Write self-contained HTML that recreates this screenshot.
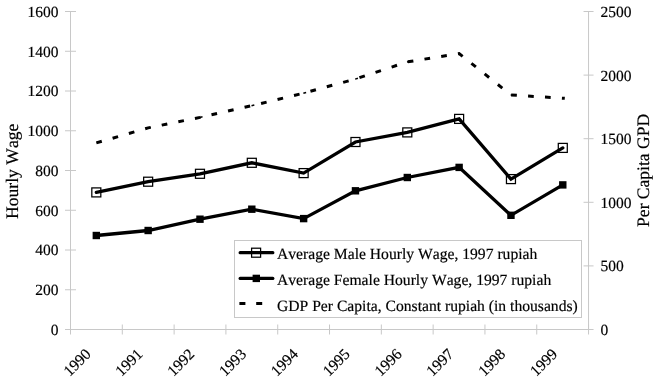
<!DOCTYPE html>
<html><head><meta charset="utf-8"><title>Hourly Wage and GDP Per Capita</title>
<style>
html,body{margin:0;padding:0;background:#fff;}
text{stroke:#000;stroke-width:0.18px;}
svg{display:block;text-rendering:geometricPrecision;font-kerning:none;font-family:"Liberation Serif","Times New Roman",serif;fill:#000;}
</style></head><body>
<svg width="660" height="382" viewBox="0 0 660 382">
<rect width="660" height="382" fill="#fff"/>

<g stroke="#c8c8c8" stroke-width="1" fill="none">
<line x1="70.5" y1="11.5" x2="70.5" y2="329.5"/>
<line x1="588.55" y1="11.5" x2="588.55" y2="329.5"/>
<line x1="70.5" y1="329.5" x2="588.55" y2="329.5"/>
<line x1="65.0" y1="329.50" x2="76.0" y2="329.50"/>
<line x1="65.0" y1="289.75" x2="76.0" y2="289.75"/>
<line x1="65.0" y1="250.00" x2="76.0" y2="250.00"/>
<line x1="65.0" y1="210.25" x2="76.0" y2="210.25"/>
<line x1="65.0" y1="170.50" x2="76.0" y2="170.50"/>
<line x1="65.0" y1="130.75" x2="76.0" y2="130.75"/>
<line x1="65.0" y1="91.00" x2="76.0" y2="91.00"/>
<line x1="65.0" y1="51.25" x2="76.0" y2="51.25"/>
<line x1="65.0" y1="11.50" x2="76.0" y2="11.50"/>
<line x1="583.55" y1="329.50" x2="593.55" y2="329.50"/>
<line x1="583.55" y1="265.90" x2="593.55" y2="265.90"/>
<line x1="583.55" y1="202.30" x2="593.55" y2="202.30"/>
<line x1="583.55" y1="138.70" x2="593.55" y2="138.70"/>
<line x1="583.55" y1="75.10" x2="593.55" y2="75.10"/>
<line x1="583.55" y1="11.50" x2="593.55" y2="11.50"/>
<line x1="70.50" y1="324.5" x2="70.50" y2="334.5"/>
<line x1="122.30" y1="324.5" x2="122.30" y2="334.5"/>
<line x1="174.11" y1="324.5" x2="174.11" y2="334.5"/>
<line x1="225.91" y1="324.5" x2="225.91" y2="334.5"/>
<line x1="277.72" y1="324.5" x2="277.72" y2="334.5"/>
<line x1="329.52" y1="324.5" x2="329.52" y2="334.5"/>
<line x1="381.33" y1="324.5" x2="381.33" y2="334.5"/>
<line x1="433.13" y1="324.5" x2="433.13" y2="334.5"/>
<line x1="484.94" y1="324.5" x2="484.94" y2="334.5"/>
<line x1="536.74" y1="324.5" x2="536.74" y2="334.5"/>
<line x1="588.55" y1="324.5" x2="588.55" y2="334.5"/>
</g>
<g font-size="15.5px">
<text x="58.6" y="334.90" text-anchor="end">0</text>
<text x="58.6" y="295.15" text-anchor="end">200</text>
<text x="58.6" y="255.40" text-anchor="end">400</text>
<text x="58.6" y="215.65" text-anchor="end">600</text>
<text x="58.6" y="175.90" text-anchor="end">800</text>
<text x="58.6" y="136.15" text-anchor="end">1000</text>
<text x="58.6" y="96.40" text-anchor="end">1200</text>
<text x="58.6" y="56.65" text-anchor="end">1400</text>
<text x="58.6" y="16.90" text-anchor="end">1600</text>
<text x="600.6" y="334.90">0</text>
<text x="600.6" y="271.30">500</text>
<text x="600.6" y="207.70">1000</text>
<text x="600.6" y="144.10">1500</text>
<text x="600.6" y="80.50">2000</text>
<text x="600.6" y="16.90">2500</text>
<text transform="translate(85.32,348.7) rotate(-45)" text-anchor="end" x="0" y="9" font-size="15.5px">1990</text>
<text transform="translate(137.15,348.7) rotate(-45)" text-anchor="end" x="0" y="9" font-size="15.5px">1991</text>
<text transform="translate(188.98,348.7) rotate(-45)" text-anchor="end" x="0" y="9" font-size="15.5px">1992</text>
<text transform="translate(240.81,348.7) rotate(-45)" text-anchor="end" x="0" y="9" font-size="15.5px">1993</text>
<text transform="translate(292.63,348.7) rotate(-45)" text-anchor="end" x="0" y="9" font-size="15.5px">1994</text>
<text transform="translate(344.47,348.7) rotate(-45)" text-anchor="end" x="0" y="9" font-size="15.5px">1995</text>
<text transform="translate(396.30,348.7) rotate(-45)" text-anchor="end" x="0" y="9" font-size="15.5px">1996</text>
<text transform="translate(448.12,348.7) rotate(-45)" text-anchor="end" x="0" y="9" font-size="15.5px">1997</text>
<text transform="translate(499.96,348.7) rotate(-45)" text-anchor="end" x="0" y="9" font-size="15.5px">1998</text>
<text transform="translate(551.79,348.7) rotate(-45)" text-anchor="end" x="0" y="9" font-size="15.5px">1999</text>
</g>
<text font-size="17.6px" transform="translate(18,171.3) rotate(-90)" text-anchor="middle">Hourly Wage</text>
<text font-size="17.55px" transform="translate(649,170.4) rotate(-90)" text-anchor="middle">Per Capita GPD</text>
<rect x="234.5" y="240.5" width="346.5" height="77" fill="#fff" stroke="#c8c8c8" stroke-width="1" shape-rendering="crispEdges"/>
<path d="M96.32,142.90 L148.15,127.90 L199.98,117.40 L251.81,105.70 L303.63,93.10 L355.47,79.00 L407.30,61.90 L459.12,53.50 L510.96,95.00 L562.79,98.20 L564.79,98.32" fill="none" stroke="#000" stroke-width="3" stroke-dasharray="5.7 11.25"/>
<line x1="147.85" y1="127.96" x2="150.69" y2="127.38" stroke="#000" stroke-width="1.5"/>
<line x1="199.68" y1="117.47" x2="202.51" y2="116.83" stroke="#000" stroke-width="1.5"/>
<line x1="251.51" y1="105.77" x2="254.33" y2="105.09" stroke="#000" stroke-width="1.5"/>
<line x1="303.35" y1="93.18" x2="306.14" y2="92.42" stroke="#000" stroke-width="1.5"/>
<line x1="355.18" y1="79.09" x2="357.93" y2="78.19" stroke="#000" stroke-width="1.5"/>
<line x1="407.00" y1="61.95" x2="409.86" y2="61.48" stroke="#000" stroke-width="1.5"/>
<line x1="458.89" y1="53.31" x2="461.15" y2="55.13" stroke="#000" stroke-width="1.5"/>
<line x1="510.66" y1="94.98" x2="513.55" y2="95.16" stroke="#000" stroke-width="1.5"/>
<path d="M96.32,235.50 L148.15,230.50 L199.98,219.20 L251.81,209.20 L303.63,218.60 L355.47,190.80 L407.30,177.50 L459.12,167.40 L510.96,215.30 L562.79,184.90" fill="none" stroke="#000" stroke-width="3.3" stroke-linejoin="miter" stroke-linecap="round"/>
<rect x="92.62" y="231.80" width="7.4" height="7.4" fill="#000"/>
<rect x="144.45" y="226.80" width="7.4" height="7.4" fill="#000"/>
<rect x="196.28" y="215.50" width="7.4" height="7.4" fill="#000"/>
<rect x="248.11" y="205.50" width="7.4" height="7.4" fill="#000"/>
<rect x="299.94" y="214.90" width="7.4" height="7.4" fill="#000"/>
<rect x="351.77" y="187.10" width="7.4" height="7.4" fill="#000"/>
<rect x="403.60" y="173.80" width="7.4" height="7.4" fill="#000"/>
<rect x="455.43" y="163.70" width="7.4" height="7.4" fill="#000"/>
<rect x="507.26" y="211.60" width="7.4" height="7.4" fill="#000"/>
<rect x="559.09" y="181.20" width="7.4" height="7.4" fill="#000"/>
<rect x="91.82" y="187.90" width="9" height="9" fill="none" stroke="#000" stroke-width="1.25"/>
<rect x="143.65" y="177.20" width="9" height="9" fill="none" stroke="#000" stroke-width="1.25"/>
<rect x="195.48" y="169.30" width="9" height="9" fill="none" stroke="#000" stroke-width="1.25"/>
<rect x="247.31" y="158.30" width="9" height="9" fill="none" stroke="#000" stroke-width="1.25"/>
<rect x="299.13" y="168.60" width="9" height="9" fill="none" stroke="#000" stroke-width="1.25"/>
<rect x="350.97" y="137.50" width="9" height="9" fill="none" stroke="#000" stroke-width="1.25"/>
<rect x="402.80" y="127.90" width="9" height="9" fill="none" stroke="#000" stroke-width="1.25"/>
<rect x="454.62" y="114.40" width="9" height="9" fill="none" stroke="#000" stroke-width="1.25"/>
<rect x="506.46" y="174.60" width="9" height="9" fill="none" stroke="#000" stroke-width="1.25"/>
<rect x="558.29" y="143.40" width="9" height="9" fill="none" stroke="#000" stroke-width="1.25"/>
<path d="M96.32,192.40 L148.15,181.70 L199.98,173.80 L251.81,162.80 L303.63,173.10 L355.47,142.00 L407.30,132.40 L459.12,118.90 L510.96,179.10 L562.79,147.90" fill="none" stroke="#000" stroke-width="3.3" stroke-linejoin="miter" stroke-linecap="round"/>
<line x1="240.2" y1="252.7" x2="272.8" y2="252.7" stroke="#000" stroke-width="3.3" stroke-linecap="round"/>
<rect x="251.60000000000002" y="248.2" width="9" height="9" fill="none" stroke="#000" stroke-width="1.25"/>
<line x1="240.2" y1="278.4" x2="272.8" y2="278.4" stroke="#000" stroke-width="3.3" stroke-linecap="round"/>
<rect x="252.60000000000002" y="274.7" width="7.4" height="7.4" fill="#000"/>
<line x1="239.4" y1="303.4" x2="272" y2="303.4" stroke="#000" stroke-width="3" stroke-dasharray="6 10.8"/>
<g font-size="15.64px">
<text x="277.0" y="259.1">Average Male Hourly Wage, 1997 rupiah</text>
<text x="277.0" y="284.9">Average Female Hourly Wage, 1997 rupiah</text>
<text x="277.0" y="310.7">GDP Per Capita, Constant rupiah (in thousands)</text>
</g>
</svg></body></html>
